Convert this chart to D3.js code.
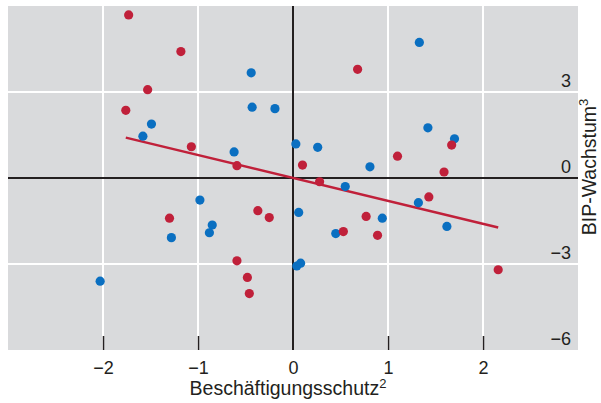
<!DOCTYPE html>
<html>
<head>
<meta charset="utf-8">
<script src="https://cdn.jsdelivr.net/npm/d3@7"></script>
<style>
  html, body { margin: 0; padding: 0; background: #fff; }
  svg { display: block; font-family: "Liberation Sans", Arial, Helvetica, sans-serif; }
</style>
</head>
<body>
<svg id="chart" width="601" height="403"></svg>
<script>
// Employment protection (x) vs GDP growth (y), two country groups
const redX  = [-1.73, -1.18, -1.53, -1.76, -1.07, -0.59, 0.10, 0.68, 1.67, 1.10, 1.59, 0.28, 1.43, -1.30, -0.37, -0.25, -0.59, -0.48, -0.46, 0.77, 0.53, 0.89, 2.16];
const redY  = [5.69, 4.41, 3.08, 2.36, 1.09, 0.43, 0.45, 3.79, 1.15, 0.76, 0.21, -0.13, -0.66, -1.40, -1.14, -1.38, -2.89, -3.47, -4.03, -1.34, -1.87, -2.00, -3.20];
const blueX = [-0.44, -0.43, -0.19, -1.49, -1.58, -0.62, 0.03, -0.98, 1.33, 1.42, 1.70, 0.26, 0.81, 0.55, 1.32, 0.06, -0.85, -0.88, -1.28, -2.03, 0.04, 0.08, 0.94, 0.45, 1.62];
const blueY = [3.67, 2.47, 2.42, 1.88, 1.46, 0.91, 1.19, -0.77, 4.73, 1.75, 1.37, 1.07, 0.39, -0.30, -0.86, -1.20, -1.64, -1.91, -2.08, -3.60, -3.07, -2.97, -1.40, -1.94, -1.69];

// Fitted trend line: endpoints on the x axis and slope through the origin
const trendX = [-1.76, 2.16];
const trendSlope = -0.8;

const xTicks = [-2, -1, 0, 1, 2];
const yTicks = [3, 0, -3, -6];
const xTitle = "Beschäftigungsschutz";
const yTitle = "BIP-Wachstum";

const svg = d3.select("#chart");
const plot = { left: 8, right: 578, top: 6, bottom: 350 };

const x = d3.scaleLinear().domain([-3, 3]).range([plot.left, plot.right]);
const y = d3.scaleLinear().domain([-6, 6]).range([plot.bottom, plot.top]);

const RED = "#c0203a", BLUE = "#0a6fc1", INK = "#231f20";
const FONT = "'Liberation Sans', Arial, Helvetica, sans-serif";

// Panel background
svg.append("rect")
  .attr("x", plot.left).attr("y", plot.top)
  .attr("width", plot.right - plot.left).attr("height", plot.bottom - plot.top)
  .attr("fill", "#d9dadc");

// White grid
const grid = svg.append("g").attr("stroke", "#ffffff").attr("stroke-width", 2);
grid.selectAll("line.v").data(xTicks.filter(d => d !== 0)).join("line")
  .attr("x1", d => x(d)).attr("x2", d => x(d))
  .attr("y1", plot.top).attr("y2", plot.bottom);
grid.selectAll("line.h").data(yTicks.filter(d => d !== 0 && d !== -6)).join("line")
  .attr("x1", plot.left).attr("x2", plot.right)
  .attr("y1", d => y(d)).attr("y2", d => y(d));

// Zero axes
svg.append("line")
  .attr("x1", plot.left).attr("x2", plot.right)
  .attr("y1", y(0)).attr("y2", y(0))
  .attr("stroke", INK).attr("stroke-width", 2);
svg.append("line")
  .attr("x1", x(0)).attr("x2", x(0))
  .attr("y1", plot.top).attr("y2", plot.bottom)
  .attr("stroke", INK).attr("stroke-width", 2);

// Bottom axis: inward ticks and labels
const xAxis = d3.axisBottom(x).tickValues(xTicks)
  .tickSize(0).tickPadding(0)
  .tickFormat(d => d3.format("")(d).replace("-", "\u2212"));
const gx = svg.append("g").attr("transform", `translate(0,${plot.bottom})`).call(xAxis);
gx.select(".domain").remove();
gx.selectAll(".tick text")
  .attr("y", 24).attr("dy", null)
  .attr("font-size", 18).attr("fill", INK)
  .attr("font-family", FONT);
gx.selectAll(".tick").filter(d => d !== 0).append("line")
  .attr("y1", -14).attr("y2", 0)
  .attr("stroke", INK).attr("stroke-width", 1.5);

// Right-side value labels sitting above their grid lines
const yAxis = d3.axisRight(y).tickValues(yTicks).tickSize(0).tickPadding(0)
  .tickFormat(d => d3.format("")(d).replace("-", "\u2212"));
const gy = svg.append("g").attr("transform", `translate(${plot.right - 7},0)`).call(yAxis);
gy.select(".domain").remove();
gy.selectAll(".tick text")
  .attr("x", 0).attr("dy", -6)
  .attr("text-anchor", "end")
  .attr("font-size", 18).attr("fill", INK)
  .attr("font-family", FONT);

// Trend line
const trend = d3.line().x(d => x(d[0])).y(d => y(d[1]));
svg.append("path")
  .datum(trendX.map(v => [v, v * trendSlope]))
  .attr("d", trend)
  .attr("fill", "none").attr("stroke", RED).attr("stroke-width", 2.5);

// Points
svg.append("g").selectAll("circle").data(d3.zip(blueX, blueY)).join("circle")
  .attr("cx", d => x(d[0])).attr("cy", d => y(d[1])).attr("r", 4.6).attr("fill", BLUE);
svg.append("g").selectAll("circle").data(d3.zip(redX, redY)).join("circle")
  .attr("cx", d => x(d[0])).attr("cy", d => y(d[1])).attr("r", 4.6).attr("fill", RED);

// Axis titles with superscript note markers
const xt = svg.append("text")
  .attr("x", 288).attr("y", 395)
  .attr("text-anchor", "middle")
  .attr("font-size", 19.5).attr("fill", INK);
xt.append("tspan").text(xTitle);
xt.append("tspan").attr("dy", -7).attr("font-size", 13).text("2");

const yt = svg.append("text")
  .attr("transform", "translate(596,167) rotate(-90)")
  .attr("text-anchor", "middle")
  .attr("font-size", 19.5).attr("fill", INK);
yt.append("tspan").text(yTitle);
yt.append("tspan").attr("dy", -8).attr("font-size", 13).text("3");
</script>
</body>
</html>
